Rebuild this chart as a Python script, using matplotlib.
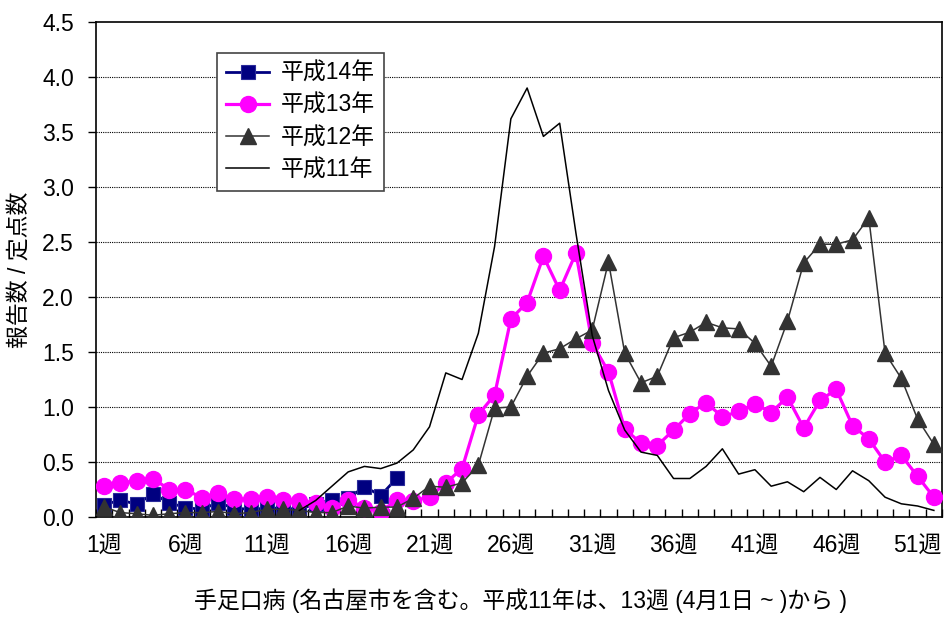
#!/usr/bin/env python3
"""
手足口病 weekly report chart (報告数/定点数), H11-H14
"""

import numpy as np
import matplotlib
matplotlib.use('Agg')
import matplotlib.pyplot as plt

plt.rcParams['font.family'] = ['Liberation Sans', 'Noto Sans CJK JP']

# --- data ---
weeks = np.arange(1, 53)

h14_weeks = np.arange(1, 20)
h14 = [0.11, 0.155, 0.115, 0.21, 0.13, 0.085, 0.07, 0.13, 0.08, 0.07,
       0.08, 0.08, 0.07, 0.12, 0.155, 0.17, 0.275, 0.195, 0.355]

h13 = [0.28, 0.31, 0.33, 0.35, 0.25, 0.25, 0.175, 0.22, 0.16, 0.16,
       0.18, 0.155, 0.145, 0.13, 0.08, 0.155, 0.085, 0.05, 0.155, 0.15,
       0.18, 0.31, 0.44, 0.93, 1.11, 1.80, 1.95, 2.37, 2.06, 2.40,
       1.58, 1.32, 0.80, 0.67, 0.65, 0.79, 0.94, 1.04, 0.91, 0.96,
       1.03, 0.95, 1.09, 0.81, 1.06, 1.16, 0.83, 0.71, 0.50, 0.56,
       0.37, 0.18]

h12 = [0.09, 0.04, 0.03, 0.015, 0.03, 0.04, 0.04, 0.05, 0.03, 0.04,
       0.07, 0.07, 0.06, 0.04, 0.04, 0.10, 0.08, 0.09, 0.09, 0.17,
       0.28, 0.27, 0.31, 0.47, 0.99, 1.00, 1.28, 1.49, 1.53, 1.62,
       1.70, 2.32, 1.49, 1.22, 1.28, 1.63, 1.68, 1.77, 1.72, 1.71,
       1.58, 1.37, 1.78, 2.31, 2.48, 2.48, 2.52, 2.72, 1.49, 1.26,
       0.89, 0.66]

# 平成11年 starts at week 13
h11_weeks = np.arange(13, 53)
h11 = [0.06, 0.15, 0.28, 0.41, 0.46, 0.44, 0.49, 0.61, 0.82, 1.31,
       1.25, 1.67, 2.46, 3.62, 3.90, 3.46, 3.58, 2.58, 1.65, 1.15,
       0.79, 0.59, 0.56, 0.35, 0.35, 0.46, 0.62, 0.39, 0.43, 0.28,
       0.32, 0.23, 0.36, 0.25, 0.42, 0.33, 0.18, 0.12, 0.10, 0.06]

label_weeks = [1, 6, 11, 16, 21, 26, 31, 36, 41, 46, 51]
yticks = np.arange(0, 4.51, 0.5)

FS = 16.5

# --- figure ---
fig = plt.figure(figsize=(9.44, 6.18), dpi=100)
ax = fig.add_axes([96 / 944, 1 - 517 / 618, 846 / 944, 495 / 618])

ax.plot(h14_weeks, h14, color='#000080', lw=2, marker='s', ms=10.5,
        mfc='#000080', mec='#2a2a9a', mew=0.8, label='平成14年', zorder=3)
ax.plot(weeks, h13, color='#ff00ff', lw=2.3, marker='o', ms=11.5,
        mfc='#ff00ff', mec='#ff00ff', label='平成13年', zorder=4)
ax.plot(weeks, h12, color='#333333', lw=1.1, marker='^', ms=11.5,
        mfc='#333333', mec='#333333', label='平成12年', zorder=5)
ax.plot(h11_weeks, h11, color='black', lw=1.1, label='平成11年', zorder=6)

ax.set_xlim(0.5, 52.5)
ax.set_ylim(0, 4.5)

# y axis
ax.set_yticks(yticks)
ax.set_yticklabels([f'{v:.1f}' for v in yticks])
ax.tick_params(axis='y', direction='out', length=6, width=1, pad=10,
               labelsize=FS)
for v in yticks[1:-1]:
    ax.axhline(v, color='black', lw=0.8, ls=(0, (1, 1)), zorder=1)

# x axis: tick marks at category boundaries, labels every 5 weeks
ax.set_xticks(np.arange(0.5, 53, 1))
ax.set_xticklabels([])
ax.tick_params(axis='x', which='major', direction='in', length=6, width=1)
ax.set_xticks(label_weeks, minor=True)
ax.set_xticklabels([f'{w}週' for w in label_weeks], minor=True)
ax.tick_params(axis='x', which='minor', length=0, pad=13, labelsize=FS)

for s in ax.spines.values():
    s.set_linewidth(1.2)

ax.set_ylabel('報告数 / 定点数', fontsize=FS)
ax.yaxis.set_label_coords(-0.077, 0.5)
fig.text(0.551, 1 - 601 / 618,
         '手足口病 (名古屋市を含む。平成11年は、13週 (4月1日 ~ )から )',
         ha='center', va='center', fontsize=FS)

leg = ax.legend(loc='upper left', bbox_to_anchor=(0.1427, 0.938),
                borderaxespad=0, fontsize=FS, fancybox=False,
                edgecolor='#444444', framealpha=1, handlelength=1.9,
                labelspacing=0.4, handletextpad=0.5, borderpad=0.4)
leg.get_frame().set_linewidth(1.2)

fig.savefig('out.png', dpi=100)
